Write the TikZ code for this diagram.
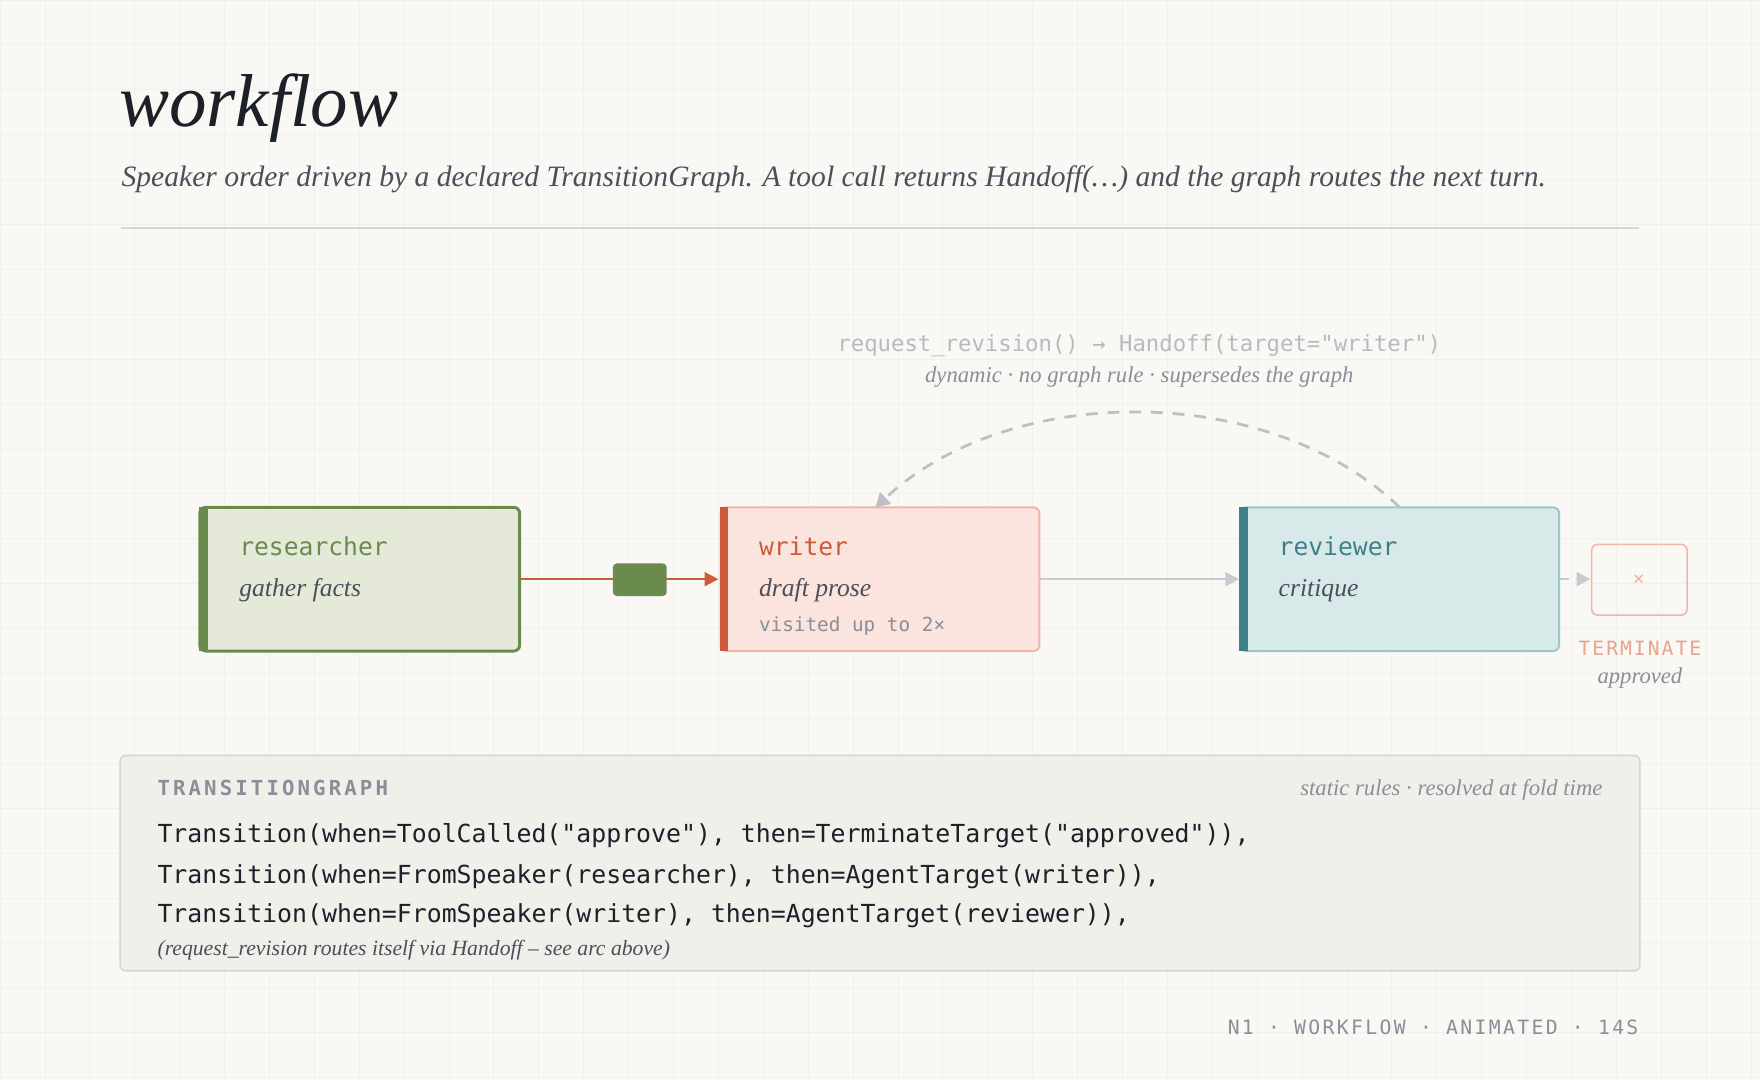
\documentclass[tikz,border=0pt]{standalone}
\usepackage{fontspec}
\setmainfont{Liberation Serif}
\setmonofont{DejaVu Sans Mono}
\usetikzlibrary{arrows.meta}
\definecolor{bg}{HTML}{F9F8F4}
\definecolor{gridc}{HTML}{F1F0EB}
\definecolor{ink}{HTML}{1C2029}
\definecolor{sub}{HTML}{4A4F5A}
\definecolor{muted}{HTML}{8A8E98}
\definecolor{faint}{HTML}{B8BAC0}
\definecolor{rule}{HTML}{D5D5DC}
\definecolor{pborder}{HTML}{D5D5D5}
\definecolor{termc}{HTML}{E8A38E}
\definecolor{gA}{HTML}{6B8A4E}\definecolor{gF}{HTML}{E4E9D8}
\definecolor{rA}{HTML}{CC5A3C}\definecolor{rF}{HTML}{FBE4DD}\definecolor{rB}{HTML}{F0B6A6}
\definecolor{tA}{HTML}{3F8088}\definecolor{tF}{HTML}{D8E9EA}\definecolor{tB}{HTML}{9CC6CB}
\definecolor{edge}{HTML}{C8CAD0}
\definecolor{panel}{HTML}{F0EFEA}
\tikzset{
 box/.style={draw, line width=1pt, rounded corners=3pt},
 lbl/.style={anchor=base west, font=\ttfamily\fontsize{12.5}{14}\selectfont},
 sublbl/.style={anchor=base west, font=\itshape\fontsize{13}{15}\selectfont, text=sub},
 code/.style={anchor=base west, font=\ttfamily\fontsize{12.6}{15}\selectfont, text=ink, inner sep=0},
}
\begin{document}
\begin{tikzpicture}[x=0.02cm,y=-0.02cm]
\fill[bg] (0,0) rectangle (1568,962);
\useasboundingbox (0,0) rectangle (1568,962);
\foreach \i in {0,40,...,1560} \draw[gridc,line width=0.4pt] (\i,0) -- (\i,962);
\foreach \j in {0,40,...,960} \draw[gridc,line width=0.4pt] (0,\j) -- (1568,\j);
% title
\node[anchor=base west, inner sep=0, text=ink, font=\itshape\fontsize{38}{40}\selectfont] (title) at (106,113) {workflow};
\node[anchor=base west, inner sep=0, text=sub, font=\itshape\fontsize{15}{18}\selectfont] (subt) at (108,166) {Speaker order driven by a declared TransitionGraph. A tool call returns Handoff(…) and the graph routes the next turn.};
\draw[rule,line width=0.8pt] (108,203) -- (1460,203);
% researcher
\draw[box, draw=gA, fill=gF, line width=1.5pt] (178,452) rectangle (463,580);
\fill[gA] (177,452) rectangle (185,580);
\node[lbl, text=gA] (resl) at (207,495) {researcher};
\node[sublbl] (ress) at (207,531) {gather facts};
% writer
\draw[box, draw=rB, fill=rF] (642,452) rectangle (926,580);
\fill[rA] (641,452) rectangle (649,580);
\node[lbl, text=rA] (wrl) at (670,495) {writer};
\node[sublbl] (wrs) at (670,531) {draft prose};
\node[anchor=base west, text=muted, font=\ttfamily\fontsize{9.8}{12}\selectfont] (wrv) at (670,563) {visited up to 2×};
% reviewer
\draw[box, draw=tB, fill=tF] (1105,452) rectangle (1389,580);
\fill[tA] (1104,452) rectangle (1112,580);
\node[lbl, text=tA] (rvl) at (1133,495) {reviewer};
\node[sublbl] (rvs) at (1133,531) {critique};
% terminate
\draw[box, draw=rB, line width=0.8pt] (1418,485) rectangle (1503,548);
\node[text=rB, font=\ttfamily\fontsize{10}{12}\selectfont] (tx) at (1460,517) {×};
\node[anchor=base, text=termc, font=\ttfamily\fontsize{10}{12}\selectfont\addfontfeature{LetterSpace=10}] (term) at (1461,584) {TERMINATE};
\node[anchor=base, text=muted, font=\itshape\fontsize{11.5}{14}\selectfont] (appr) at (1461,609) {approved};
% named anchors
\coordinate (resE) at (463,516); \coordinate (wrW) at (640,516);
\coordinate (wrE) at (926,516); \coordinate (rvW) at (1104,516);
\coordinate (rvE) at (1389,516); \coordinate (tmW) at (1417,516);
\coordinate (rvT) at (1247,452); \coordinate (wrT) at (780,452);
% edges
\draw[rA, line width=1.2pt, -{Triangle[length=7pt,width=7pt]}] (resE) -- (wrW);
\fill[rounded corners=2pt, gA] (546,502) rectangle (594,531);
\draw[edge, line width=1.2pt, -{Triangle[length=7pt,width=7pt]}] (wrE) -- (rvW);
\draw[edge, line width=1.2pt, dash pattern=on 5pt off 4pt, -{Triangle[length=7pt,width=7pt]}] (rvE) -- (tmW);
\draw[edge!85!gray, line width=1.4pt, dash pattern=on 6pt off 5pt, -{Triangle[length=7pt,width=8pt]}] (rvT) .. controls (1130,340) and (900,340) .. (wrT);
\node[anchor=base, text=faint, font=\ttfamily\fontsize{11.3}{14}\selectfont] (hl) at (1015,313) {request\_revision() → Handoff(target="writer")};
\node[anchor=base, text=muted, font=\itshape\fontsize{11.5}{14}\selectfont] (hs) at (1015,341) {dynamic · no graph rule · supersedes the graph};
% panel
\draw[fill=panel, draw=pborder, line width=0.8pt, rounded corners=3pt] (107,673) rectangle (1461,865);
\node[anchor=base west, inner sep=0, text=muted, font=\ttfamily\bfseries\fontsize{10.5}{12}\selectfont\addfontfeature{LetterSpace=15}] (tg) at (140,709) {TRANSITIONGRAPH};
\node[anchor=base east, inner sep=0, text=muted, font=\itshape\fontsize{11.5}{14}\selectfont] (sr) at (1428,709) {static rules · resolved at fold time};
\node[code] (c1) at (140,751) {Transition(when=ToolCalled("approve"), then=TerminateTarget("approved")),};
\node[code] (c2) at (140,787) {Transition(when=FromSpeaker(researcher), then=AgentTarget(writer)),};
\node[code] (c3) at (140,822) {Transition(when=FromSpeaker(writer), then=AgentTarget(reviewer)),};
\node[anchor=base west, inner sep=0, text=sub, font=\itshape\fontsize{11}{13}\selectfont] (fn) at (140,851) {(request\_revision routes itself via Handoff – see arc above)};
% footer
\node[anchor=base east, inner sep=0, text=muted, font=\ttfamily\fontsize{10}{12}\selectfont\addfontfeature{LetterSpace=12}] (ft) at (1460,922) {N1 · WORKFLOW · ANIMATED · 14S};
\end{tikzpicture}
\end{document}
